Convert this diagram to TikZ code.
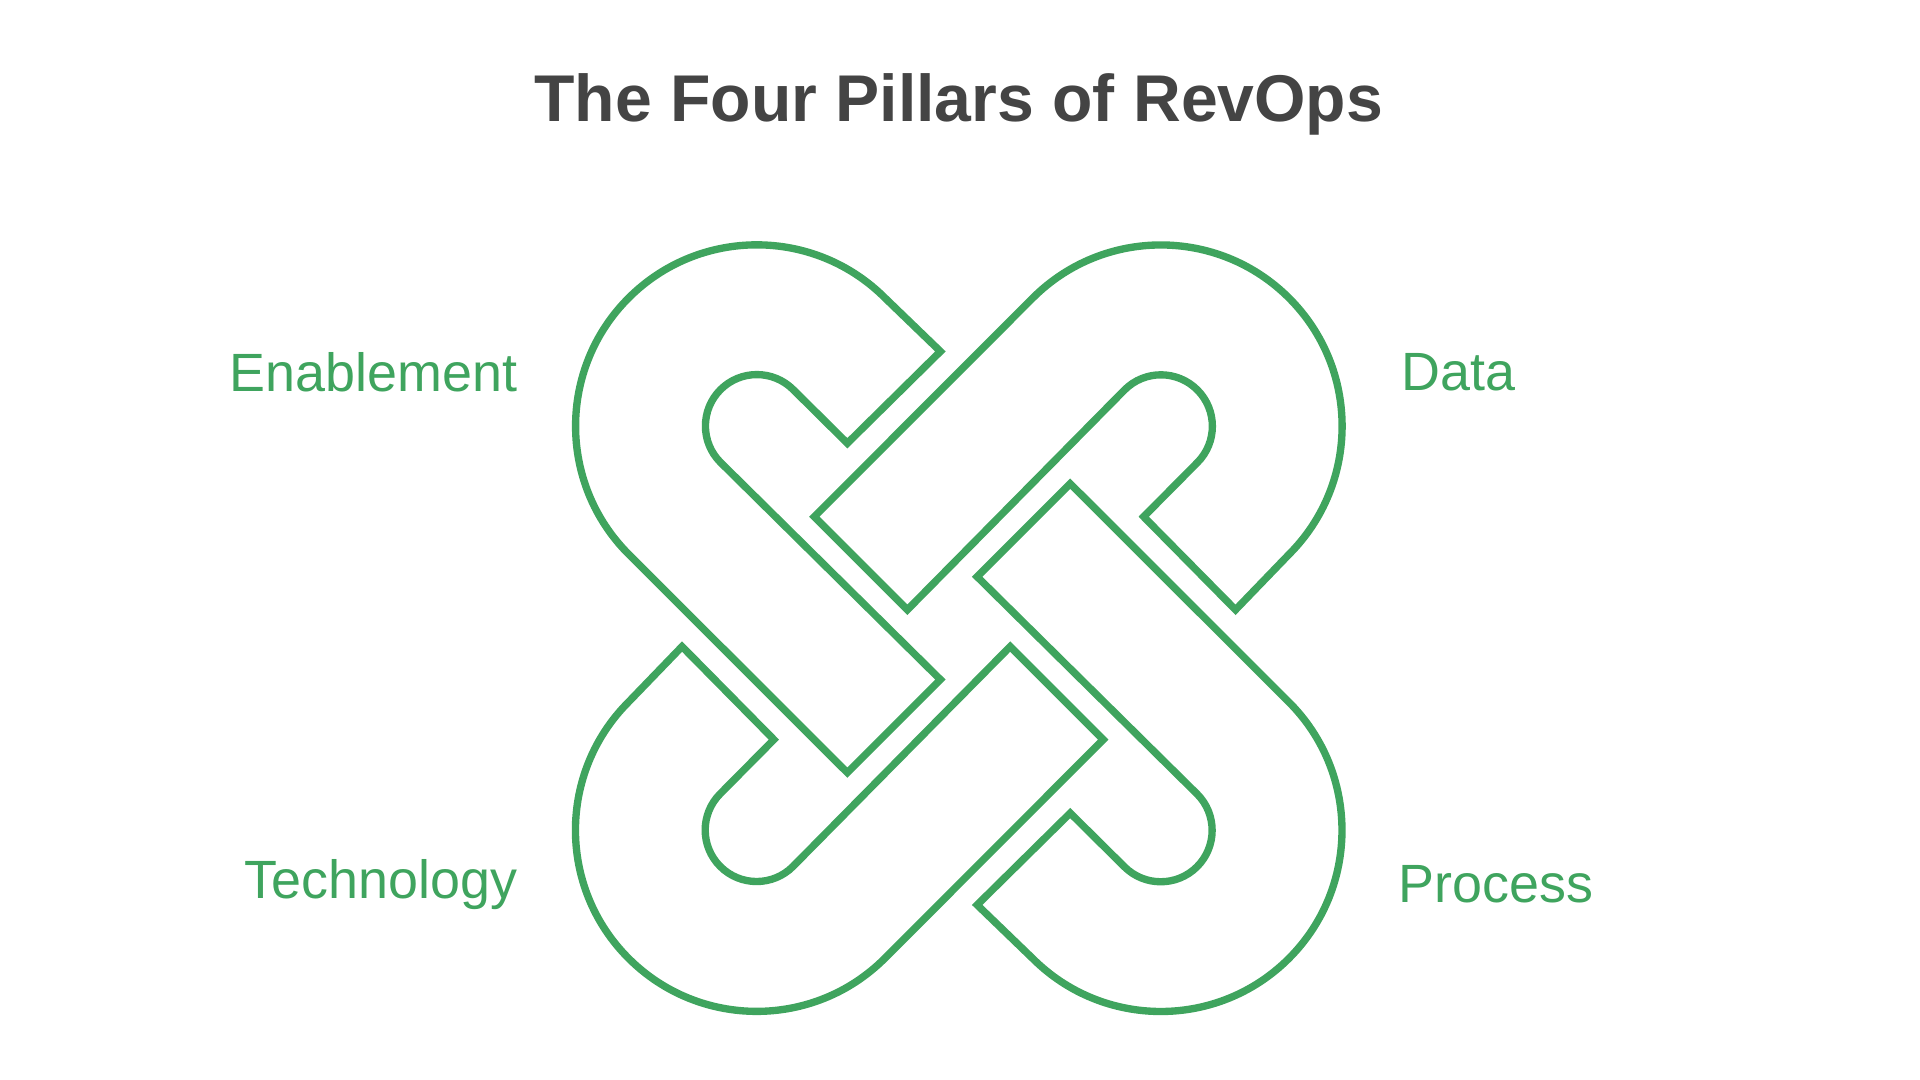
\documentclass[tikz,border=0pt]{standalone}
\usepackage{fontspec}
\setmainfont{Liberation Sans}
\begin{document}
\begin{tikzpicture}[x=0.5pt,y=-0.5pt,
  band/.style={draw=pgreen,fill=white,line width=3,line join=miter},
  lab/.style={text=pgreen,font=\fontsize{22}{26}\selectfont,inner sep=0pt}]
\definecolor{pgreen}{HTML}{3FA45E}
\definecolor{tgray}{HTML}{444444}
\useasboundingbox (0,0) rectangle (1568,882);
\newcommand\pillarpath{(768,287) -- (722.7,243.3) arc[start angle=-45,end angle=-225,radius=148]
  -- (692,631) -- (768,555) -- (588.4,377.6) arc[start angle=135,end angle=315,radius=42]
  -- (692,362) -- cycle}
\foreach \a in {0,90,180,270}{
  \begin{scope}[rotate around={\a:(783,513)}]
    \path[band] \pillarpath;
  \end{scope}}
\node[text=tgray,font=\bfseries\fontsize{27}{32}\selectfont] (title) at (783,85) {The Four Pillars of RevOps};
\node[lab,anchor=east] (en) at (423,304) {Enablement};
\node[lab,anchor=west] (da) at (1144,304) {Data};
\node[lab,anchor=east] (te) at (423,722) {Technology};
\node[lab,anchor=west] (pr) at (1142,722) {Process};
\end{tikzpicture}
\end{document}
